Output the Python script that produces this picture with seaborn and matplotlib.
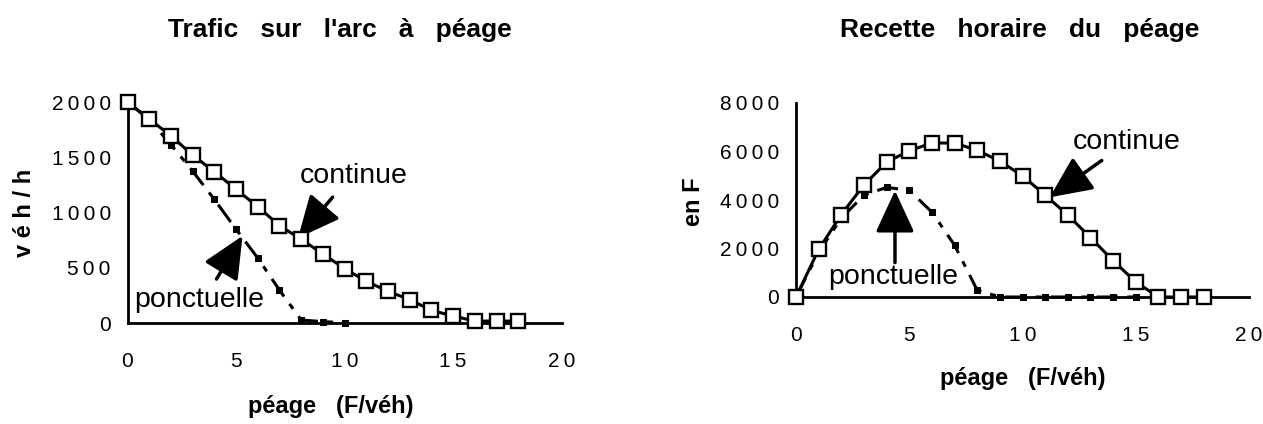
import matplotlib
matplotlib.use("Agg")
import matplotlib.pyplot as plt
import seaborn as sns

# toll (F/veh)
toll_cont = list(range(0, 19))
toll_ponct_traffic = list(range(0, 11))
toll_ponct_revenue = list(range(0, 16))

# hourly traffic on the toll link (veh/h)
traffic_cont = [2000, 1846, 1694, 1520, 1370, 1211, 1054, 883, 759, 627,
                494, 380, 289, 214, 117, 66, 20, 20, 20]
traffic_ponct = [2000, 1840, 1615, 1375, 1120, 850, 590, 300, 30, 15, 5]

# hourly toll revenue (F)
revenue_cont = [0, 1960, 3400, 4620, 5560, 6030, 6350, 6350, 6050, 5600,
                5000, 4200, 3380, 2450, 1500, 620, 0, 0, 0]
revenue_ponct = [0, 1850, 3250, 4200, 4520, 4400, 3500, 2140, 280, 0,
                 0, 0, 0, 0, 0, 0]

x_ticks = [0, 5, 10, 15, 20]
traffic_ticks = [0, 500, 1000, 1500, 2000]
revenue_ticks = [0, 2000, 4000, 6000, 8000]

sns.set_style("white")
plt.rcParams["font.family"] = ["Liberation Sans", "DejaVu Sans"]
plt.rcParams.update({"text.color": "black", "axes.labelcolor": "black",
                     "xtick.color": "black", "ytick.color": "black"})

W, H = 1263, 424
fig = plt.figure(figsize=(W / 100, H / 100), dpi=100)


def px_axes(x0, x1, ytop, ybot):
    return fig.add_axes([x0 / W, 1 - ybot / H, (x1 - x0) / W, (ybot - ytop) / H])


def spaced(v):
    # the old print spreads the digits a little
    return "\u2009".join(str(v))


def draw(ax, xc, yc, xp, yp, yticks):
    sns.lineplot(x=xp, y=yp, ax=ax, color="black", lw=2.2, ls=(0, (7, 3, 2, 3)),
                 marker="s", markersize=5, markerfacecolor="black",
                 markeredgecolor="black", clip_on=False, zorder=3)
    sns.lineplot(x=xc, y=yc, ax=ax, color="black", lw=2.2,
                 marker="s", markersize=9.5, markerfacecolor="white",
                 markeredgecolor="black", markeredgewidth=1.7,
                 clip_on=False, zorder=4)
    ax.set_xlim(0, 20)
    ax.set_ylim(yticks[0], yticks[-1])
    ax.set_xticks(x_ticks)
    ax.set_xticklabels([spaced(v) for v in x_ticks])
    ax.set_yticks(yticks)
    ax.set_yticklabels([spaced(v) for v in yticks])
    for s in ("top", "right"):
        ax.spines[s].set_visible(False)
    for s in ("left", "bottom"):
        ax.spines[s].set_linewidth(2)
        ax.spines[s].set_color("black")
    ax.tick_params(axis="both", direction="inout", length=10, width=1.6,
                   color="black", labelsize=15)
    ax.tick_params(axis="x", pad=16)
    ax.tick_params(axis="y", pad=7)
    ax.set_xlabel("")
    ax.set_ylabel("")


arrow = dict(arrowstyle="-|>,head_length=1.3,head_width=0.6", color="black",
             lw=2.5, shrinkA=0, shrinkB=0, mutation_scale=20)
note = dict(ha="center", va="center", fontsize=20.5)

# left: traffic
ax1 = px_axes(127.5, 561.7, 102, 323.3)
draw(ax1, toll_cont, traffic_cont, toll_ponct_traffic, traffic_ponct, traffic_ticks)
ax1.annotate("", xy=(7.85, 770), xytext=(9.45, 1140), arrowprops=arrow)
ax1.text(10.4, 1330, "continue", **note)
ax1.annotate("", xy=(5.3, 790), xytext=(4.1, 400), arrowprops=arrow)
ax1.text(3.3, 210, "ponctuelle", **note)

# right: revenue
ax2 = px_axes(796, 1249, 103, 297)
draw(ax2, toll_cont, revenue_cont, toll_ponct_revenue, revenue_ponct, revenue_ticks)
ax2.annotate("", xy=(11.2, 4110), xytext=(13.5, 5630), arrowprops=arrow)
ax2.text(14.6, 6390, "continue", **note)
ax2.annotate("", xy=(4.37, 4390), xytext=(4.37, 1420), arrowprops=arrow)
ax2.text(4.3, 820, "ponctuelle", **note)

bold = dict(fontweight="bold", ha="center", va="center")
fig.text(340 / W, 1 - 30 / H, "Trafic   sur   l'arc   à   péage", fontsize=19, **bold)
fig.text(1020 / W, 1 - 30 / H, "Recette   horaire   du   péage", fontsize=19, **bold)
fig.text(331 / W, 1 - 406 / H, "péage   (F/véh)", fontsize=17, **bold)
fig.text(1022.5 / W, 1 - 378 / H, "péage   (F/véh)", fontsize=17, **bold)
fig.text(25 / W, 1 - 213 / H, "v é h / h", rotation=90, fontsize=17, **bold)
fig.text(693 / W, 1 - 202 / H, "en F", rotation=90, fontsize=17, **bold)

fig.savefig("out.png", dpi=100)
